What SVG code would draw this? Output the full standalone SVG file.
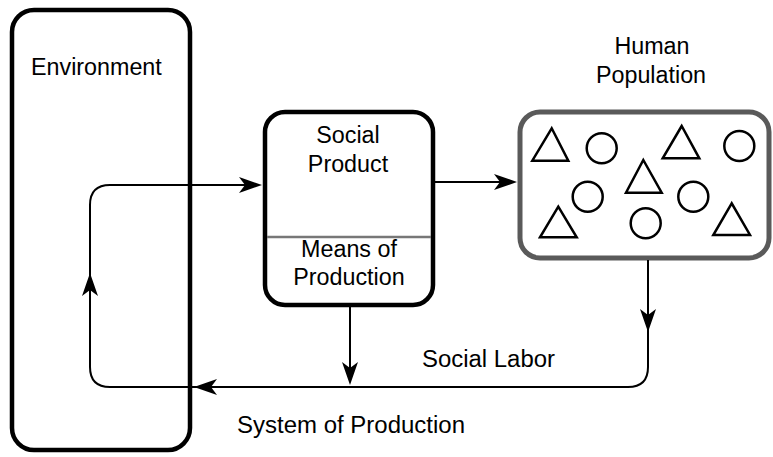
<svg xmlns="http://www.w3.org/2000/svg" xmlns:xlink="http://www.w3.org/1999/xlink" width="773" height="457" viewBox="0 0 773 457">
<style>
text{font-family:"Liberation Sans",Arial,sans-serif;font-size:23.3px;fill:#000}
.c{text-anchor:middle}
.box{fill:none;stroke:#000;stroke-width:4.5}
.hbox{fill:none;stroke:#5a5a5a;stroke-width:5}
.conn{fill:none;stroke:#000;stroke-width:2}
.sh{fill:none;stroke:#000;stroke-width:2.5}
</style>
<defs>
<path id="ah" d="M0,0 L-23,-8 L-17,0 L-23,8 Z" fill="#000"/>
</defs>
<rect width="773" height="457" fill="#fff"/>
<g id="environment">
<rect class="box" x="12" y="10" width="178" height="440" rx="22"/>
<text x="31" y="75">Environment</text>
</g>
<g id="social-product">
<rect class="box" x="265" y="112" width="168" height="193" rx="20"/>
<line x1="267" y1="237" x2="431" y2="237" stroke="#777" stroke-width="2.5"/>
<text class="c" x="348" y="143">Social</text>
<text class="c" x="348" y="172">Product</text>
<text class="c" x="349" y="257">Means of</text>
<text class="c" x="349" y="285">Production</text>
</g>
<g id="human-population">
<text class="c" x="652" y="54">Human</text>
<text class="c" x="651" y="83">Population</text>
<rect class="hbox" x="520" y="112" width="249" height="146" rx="20"/>
<polygon class="sh" points="551.7,128.3 532.3,160.7 568.3,160.7"/>
<circle class="sh" cx="601.7" cy="148.3" r="15"/>
<polygon class="sh" points="681.7,126 662.7,158.3 699.3,158.3"/>
<circle class="sh" cx="739.3" cy="146" r="15"/>
<polygon class="sh" points="643.3,160 626,192.7 661.7,192.7"/>
<circle class="sh" cx="587.7" cy="196.7" r="15"/>
<circle class="sh" cx="693.3" cy="196.7" r="15"/>
<polygon class="sh" points="558.3,206.7 540,237.3 576.7,237.3"/>
<circle class="sh" cx="645.7" cy="223.3" r="15"/>
<polygon class="sh" points="731.7,203.3 713.3,235 750,235"/>
</g>
<g id="connectors">
<path class="conn" d="M648,260 L648,367 Q648,387 628,387 L110,387 Q90,387 90,367 L90,205 Q90,185 110,185 L258,185"/>
<use xlink:href="#ah" transform="translate(262,185)"/>
<use xlink:href="#ah" transform="translate(90,273) rotate(-90)"/>
<use xlink:href="#ah" transform="translate(194,387) rotate(180)"/>
<use xlink:href="#ah" transform="translate(648,332) rotate(90)"/>
<path class="conn" d="M350,307 L350,381"/>
<use xlink:href="#ah" transform="translate(350,385) rotate(90)"/>
<path class="conn" d="M435,182 L513,182"/>
<use xlink:href="#ah" transform="translate(517,182)"/>
<text x="422" y="367" textLength="133" lengthAdjust="spacingAndGlyphs">Social Labor</text>
<text x="237" y="433" textLength="228" lengthAdjust="spacingAndGlyphs">System of Production</text>
</g>
</svg>
